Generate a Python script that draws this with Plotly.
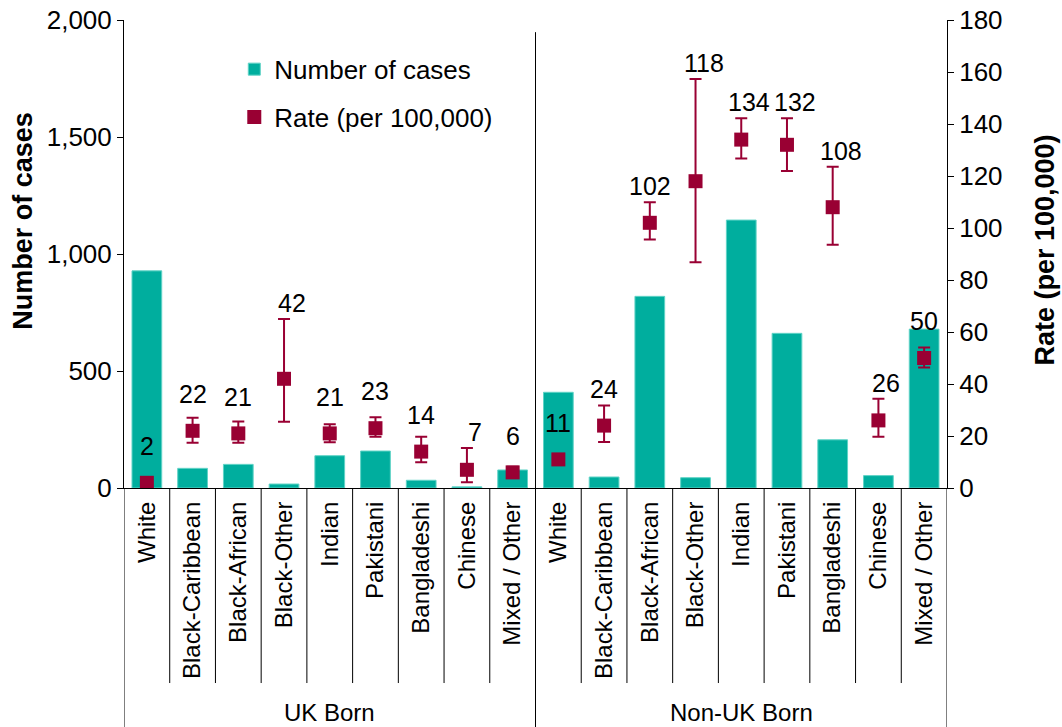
import plotly.graph_objects as go

categories = ["White", "Black-Caribbean", "Black-African", "Black-Other", "Indian",
              "Pakistani", "Bangladeshi", "Chinese", "Mixed / Other"]
groups = ["UK Born", "Non-UK Born"]

cases_uk = [928, 84, 101, 17, 138, 158, 33, 5, 77]
cases_nonuk = [409, 47, 819, 44, 1145, 661, 206, 53, 679]

rate_uk = [2, 22, 21, 42, 21, 23, 14, 7, 6]
rate_nonuk = [11, 24, 102, 118, 134, 132, 108, 26, 50]

upper_uk = [3, 27, 25.6, 65, 24.5, 27.2, 19.7, 15.4, 8.2]
lower_uk = [1, 17.4, 17.4, 25.5, 17.6, 19.7, 9.9, 2.2, 3.8]
upper_nonuk = [12, 31.7, 109.9, 157.3, 142.2, 142.2, 123.6, 34.3, 54]
lower_nonuk = [10, 17.7, 95.6, 86.8, 126.7, 121.9, 93.6, 19.7, 46.3]

TEAL = "#00AE9E"
CRIMSON = "#990033"
FONT = "Arial, 'Liberation Sans', sans-serif"
FS = 26

labels = categories + categories
cases = cases_uk + cases_nonuk
rates = rate_uk + rate_nonuk
upper = upper_uk + upper_nonuk
lower = lower_uk + lower_nonuk
xs = list(range(len(labels)))

fig = go.Figure()
fig.add_trace(go.Bar(
    x=xs, y=cases, name="Number of cases", width=0.65,
    marker=dict(color=TEAL, line=dict(color="#5fd3c6", width=1)),
    legend="legend",
))
fig.add_trace(go.Scatter(
    x=xs, y=rates, name="Rate (per 100,000)", mode="markers", yaxis="y2",
    marker=dict(symbol="square", size=14, color=CRIMSON),
    error_y=dict(type="data", symmetric=False,
                 array=[u - r for u, r in zip(upper, rates)],
                 arrayminus=[r - l for r, l in zip(rates, lower)],
                 color=CRIMSON, thickness=2, width=6),
    legend="legend2",
))

annotations = []
for x, r, u in zip(xs, rates, upper):
    small = (r + 8) > u
    annotations.append(dict(
        x=x, y=max(u, r + 8), xref="x", yref="y2", text=str(r), showarrow=False,
        yanchor="bottom", xanchor="center", xshift=0 if small else 8, yshift=0,
        font=dict(size=25, color="black", family=FONT),
    ))

for gi, g in enumerate(groups):
    annotations.append(dict(
        x=gi * 9 + 4, y=-0.479, xref="x", yref="paper", text=g, showarrow=False,
        yanchor="middle", xanchor="center", font=dict(size=24, color="black", family=FONT),
    ))

annotations.append(dict(
    x=-0.122, y=0.57, xref="paper", yref="paper", text="<b>Number of cases</b>",
    textangle=-90, showarrow=False, xanchor="center", yanchor="middle",
    font=dict(size=27, color="black", family=FONT),
))
annotations.append(dict(
    x=1.1195, y=0.508, xref="paper", yref="paper", text="<b>Rate (per 100,000)</b>",
    textangle=-90, showarrow=False, xanchor="center", yanchor="middle",
    font=dict(size=27, color="black", family=FONT),
))

shapes = []
n = len(labels)
for k in range(n + 1):
    xb = k - 0.5
    if k in (0, 9, n):
        y0 = -0.52
    else:
        y0 = -0.4167
    y1 = 0.974 if k == 9 else 0
    shapes.append(dict(type="line", xref="x", yref="paper", x0=xb, x1=xb,
                       y0=y0, y1=y1, line=dict(color="black", width=1)))

fig.update_layout(
    width=1062, height=727,
    margin=dict(l=124, r=115, t=20, b=239),
    paper_bgcolor="white", plot_bgcolor="white",
    font=dict(family=FONT, size=FS, color="black"),
    xaxis=dict(range=[-0.5, n - 0.5], tickmode="array", tickvals=xs, ticktext=labels,
               tickangle=-90, showline=True, linecolor="black", linewidth=1,
               ticks="outside", ticklen=3, tickcolor="rgba(0,0,0,0)",
               showgrid=False, zeroline=False, automargin=False,
               tickfont=dict(size=24, color="black", family=FONT)),
    yaxis=dict(range=[0, 2000], tickvals=[0, 500, 1000, 1500, 2000], tickformat=",",
               showline=True, linecolor="black", linewidth=1, ticks="outside",
               ticklen=6, tickcolor="black", showgrid=False, zeroline=False,
               automargin=False,
               tickfont=dict(size=FS, color="black", family=FONT)),
    yaxis2=dict(range=[0, 180], dtick=20, overlaying="y", side="right",
                showline=True, linecolor="black", linewidth=1, ticks="outside",
                ticklen=6, tickcolor="black", showgrid=False, zeroline=False,
                automargin=False,
                tickfont=dict(size=FS, color="black", family=FONT)),
    legend=dict(x=0.134, y=0.945, xanchor="left", yanchor="top",
                bgcolor="rgba(0,0,0,0)", font=dict(size=FS, family=FONT, color="black")),
    legend2=dict(x=0.134, y=0.843, xanchor="left", yanchor="top",
                 bgcolor="rgba(0,0,0,0)", font=dict(size=FS, family=FONT, color="black")),
    annotations=annotations,
    shapes=shapes,
    showlegend=True,
)

fig.write_html("out.html", config={"displayModeBar": False},
               post_script="document.body.style.margin='0';document.body.style.padding='0';")
